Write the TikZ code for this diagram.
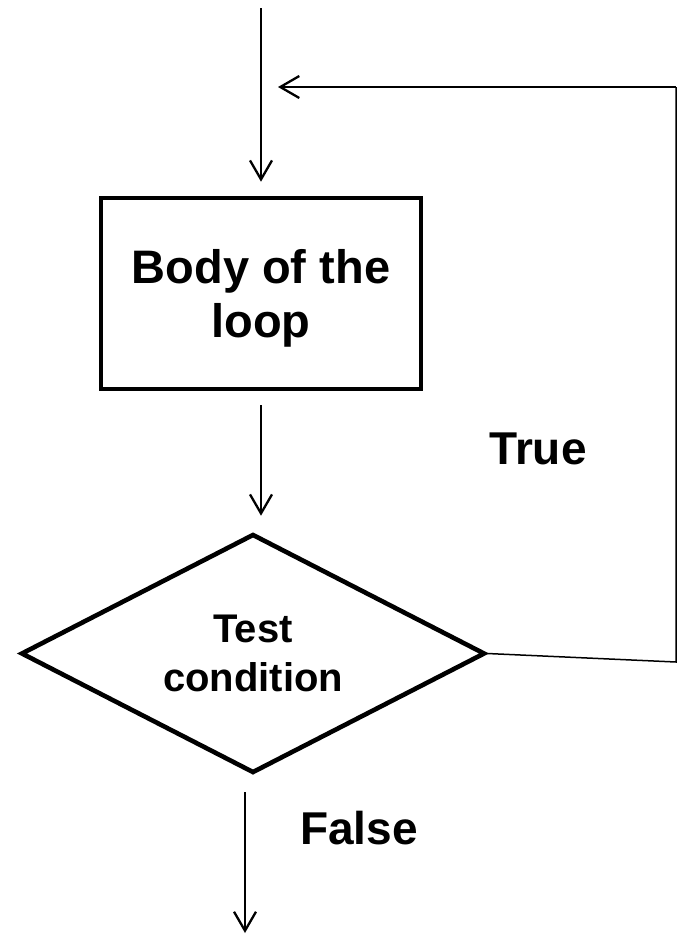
\documentclass[tikz,border=0pt]{standalone}
\usepackage{fontspec}
\setmainfont{Liberation Sans}
\usetikzlibrary{arrows.meta,shapes.geometric}

\tikzset{
  flow/.style={line width=2.3pt, -{Straight Barb[length=19pt,width=22pt,line width=2.3pt]}},
  loopline/.style={line width=1.5pt},
  bodybox/.style={draw, line width=4.6pt, rectangle, minimum width=320pt, minimum height=191pt,
                  inner sep=0pt, align=center, text depth=0pt,
                  font=\bfseries\fontsize{47}{54}\selectfont},
  testbox/.style={draw, line width=4.6pt, diamond, aspect=2, minimum width=464pt, minimum height=239pt,
                  inner sep=0pt, align=center,
                  font=\bfseries\fontsize{40}{49}\selectfont},
  branch/.style={anchor=base, inner sep=0pt, font=\bfseries\fontsize{46}{54}\selectfont}
}

\begin{document}
\begin{tikzpicture}[x=1pt,y=-1pt]
  \useasboundingbox (0,0) rectangle (677,935);

  % blocks
  \node[bodybox] (body) at (261,293.5) {Body of the\\loop};
  \node[testbox] (test) at (253,653.5) {Test\\condition};

  % branch labels
  \node[branch] (true)  at (538,464) {True};
  \node[branch] (false) at (359,844) {False};

  % free ends of connectors
  \coordinate (entry) at (261,8);
  \coordinate (exit)  at (245,933);
  \coordinate (back1) at (676,662);
  \coordinate (back2) at (676,87);
  \coordinate (backtip) at (278,87);

  % connectors
  \draw[flow, shorten >=14pt] (entry) -- (entry |- body.north);
  \draw[flow, shorten <=14pt, shorten >=16pt] (body.south -| entry) -- (test.north -| entry);
  \draw[flow, shorten <=17pt] (test.south -| exit) -- (exit);
  \draw[loopline] (test.east) -- (back1) -- (back2);
  \draw[flow] (back2) -- (backtip);
\end{tikzpicture}
\end{document}
